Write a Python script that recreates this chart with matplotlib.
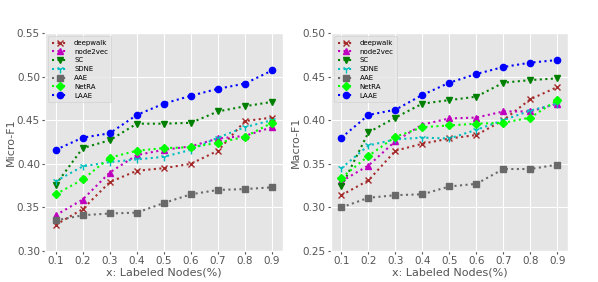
import matplotlib
matplotlib.use("Agg")
import matplotlib.pyplot as plt

plt.style.use('ggplot')

x = [0.1, 0.2, 0.3, 0.4, 0.5, 0.6, 0.7, 0.8, 0.9]
methods = ["deepwalk", "node2vec", "SC", "SDNE", "AAE", "NetRA", "LAAE"]

## Micro-F1 ##
micro_deepwalk = [0.330, 0.348, 0.379, 0.392, 0.395, 0.400, 0.415, 0.449, 0.453]
micro_node2vec = [0.341, 0.359, 0.390, 0.410, 0.416, 0.420, 0.429, 0.432, 0.442]
micro_sc = [0.376, 0.418, 0.427, 0.446, 0.446, 0.447, 0.460, 0.466, 0.471]
micro_sdne = [0.380, 0.397, 0.402, 0.405, 0.408, 0.416, 0.430, 0.442, 0.450]
micro_aae = [0.335, 0.341, 0.343, 0.344, 0.355, 0.365, 0.370, 0.371, 0.373]
micro_netra = [0.365, 0.382, 0.407, 0.415, 0.418, 0.419, 0.424, 0.431, 0.447]
micro_laae = [0.416, 0.430, 0.435, 0.456, 0.469, 0.478, 0.486, 0.492, 0.507]

## Macro-F1 ##
macro_deepwalk = [0.314, 0.331, 0.365, 0.373, 0.379, 0.383, 0.400, 0.424, 0.438]
macro_node2vec = [0.330, 0.348, 0.376, 0.395, 0.402, 0.403, 0.410, 0.410, 0.419]
macro_sc = [0.324, 0.386, 0.403, 0.419, 0.423, 0.427, 0.443, 0.446, 0.448]
macro_sdne = [0.345, 0.371, 0.378, 0.380, 0.379, 0.389, 0.400, 0.411, 0.419]
macro_aae = [0.300, 0.311, 0.314, 0.315, 0.324, 0.327, 0.344, 0.344, 0.349]
macro_netra = [0.334, 0.359, 0.381, 0.392, 0.394, 0.396, 0.397, 0.403, 0.423]
macro_laae = [0.380, 0.406, 0.412, 0.429, 0.443, 0.453, 0.461, 0.466, 0.469]

micro = [micro_deepwalk, micro_node2vec, micro_sc, micro_sdne, micro_aae, micro_netra, micro_laae]
macro = [macro_deepwalk, macro_node2vec, macro_sc, macro_sdne, macro_aae, macro_netra, macro_laae]

colors = ['#a52a2a', 'm', 'g', 'c', 'dimgray', '#00ff00', 'b']
markers = ['x', '^', 'v', '1', 's', 'D', 'o']
msizes = [4.5, 4.5, 4.5, 6, 4.5, 4.5, 4.5]

fig = plt.figure(figsize=(5.98, 2.82), dpi=100)
fig.patch.set_facecolor('white')
ax1 = fig.add_axes([0.075, 0.110, 0.398, 0.773])
ax2 = fig.add_axes([0.553, 0.110, 0.397, 0.773])


def draw(ax, data, ylabel, ylim):
    for name, vals, c, m, s in zip(methods, data, colors, markers, msizes):
        ax.plot(x, vals, linestyle=':', color=c, marker=m, markersize=s,
                linewidth=1.5, markeredgewidth=1.0, label=name)
    ax.set_ylim(ylim)
    ax.set_xticks(x)
    ax.set_yticks([ylim[0] + 0.05 * i for i in range(6)])
    ax.tick_params(labelsize=7.5, length=2, pad=1.5, colors='#555555')
    ax.set_xlabel("x: Labeled Nodes(%)", fontsize=8, labelpad=1)
    ax.set_ylabel(ylabel, fontsize=8, labelpad=1)
    ax.legend(loc='upper left', fontsize=5, handlelength=2.4, labelspacing=0.4,
              borderpad=0.5)


draw(ax1, micro, "Micro-F1", (0.30, 0.55))
draw(ax2, macro, "Macro-F1", (0.25, 0.50))

fig.savefig("out.png", dpi=100, facecolor='white')
